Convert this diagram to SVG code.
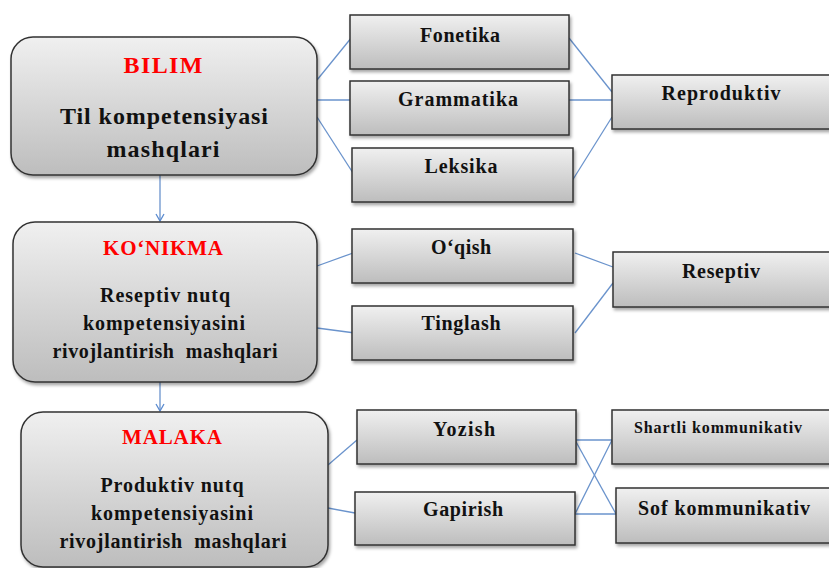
<svg xmlns="http://www.w3.org/2000/svg" width="829" height="568" viewBox="0 0 829 568">
<defs>
<linearGradient id="g" x1="0" y1="0" x2="0" y2="1">
<stop offset="0" stop-color="#f0f0f0"/>
<stop offset="1" stop-color="#bdbdbd"/>
</linearGradient>
<filter id="sh" x="-10%" y="-10%" width="130%" height="140%">
<feDropShadow dx="1.5" dy="2.5" stdDeviation="1.5" flood-color="#000" flood-opacity="0.35"/>
</filter>
<marker id="arr" viewBox="0 0 10 10" refX="9" refY="5" markerWidth="10" markerHeight="10" markerUnits="userSpaceOnUse" orient="auto">
<path d="M2,1 L9,5 L2,9" fill="none" stroke="#5b8bd0" stroke-width="1.3"/>
</marker>
</defs>
<style>
.b{fill:url(#g);stroke:#333;stroke-width:1.5;filter:url(#sh)}
.t{font-family:"Liberation Serif","Times New Roman",serif;font-weight:bold;fill:#111;text-anchor:middle}
.r{fill:#ff0000}
.c{fill:none;stroke:#6a93cc;stroke-width:1.3}
</style>
<rect width="829" height="568" fill="#fff"/>

<g id="connectors">
<line class="c" x1="160" y1="175" x2="160" y2="221" marker-end="url(#arr)"/>
<line class="c" x1="160" y1="382" x2="160" y2="411" marker-end="url(#arr)"/>
<line class="c" x1="317" y1="80" x2="352" y2="37"/>
<line class="c" x1="317" y1="100" x2="351" y2="100"/>
<line class="c" x1="317" y1="117" x2="353" y2="173"/>
<line class="c" x1="569" y1="38" x2="612" y2="92"/>
<line class="c" x1="569" y1="100" x2="612" y2="100"/>
<line class="c" x1="572" y1="181" x2="612" y2="117"/>
<line class="c" x1="317" y1="266" x2="353" y2="253"/>
<line class="c" x1="317" y1="328" x2="355" y2="333"/>
<line class="c" x1="575" y1="253" x2="613" y2="267"/>
<line class="c" x1="575" y1="333" x2="613" y2="283"/>
<line class="c" x1="328" y1="465" x2="357" y2="440"/>
<line class="c" x1="328" y1="508" x2="355" y2="513"/>
<line class="c" x1="575" y1="440" x2="612" y2="440"/>
<line class="c" x1="575" y1="440" x2="616" y2="514"/>
<line class="c" x1="575" y1="514" x2="612" y2="440"/>
<line class="c" x1="575" y1="514" x2="616" y2="514"/>
</g>

<g id="bilim">
<rect class="b" x="11" y="37" width="306" height="138" rx="22"/>
<text class="t r" x="163" y="73" font-size="24" textLength="79" lengthAdjust="spacing">BILIM</text>
<text class="t" x="164" y="124" font-size="24" textLength="208" lengthAdjust="spacing">Til kompetensiyasi</text>
<text class="t" x="163" y="157" font-size="24" textLength="113" lengthAdjust="spacing">mashqlari</text>
</g>

<g id="konikma">
<rect class="b" x="13" y="222" width="304" height="160" rx="22"/>
<text class="t r" x="163" y="255" font-size="21" textLength="120" lengthAdjust="spacing">KO‘NIKMA</text>
<text class="t" x="165" y="302" font-size="20" textLength="130" lengthAdjust="spacing">Reseptiv nutq</text>
<text class="t" x="164" y="330" font-size="20" textLength="162" lengthAdjust="spacing">kompetensiyasini</text>
<text class="t" x="165" y="358" font-size="20" textLength="225" lengthAdjust="spacing" xml:space="preserve">rivojlantirish  mashqlari</text>
</g>

<g id="malaka">
<rect class="b" x="21" y="412" width="307" height="155" rx="22"/>
<text class="t r" x="172" y="444" font-size="21" textLength="100" lengthAdjust="spacing">MALAKA</text>
<text class="t" x="172" y="492" font-size="20" textLength="143" lengthAdjust="spacing">Produktiv nutq</text>
<text class="t" x="172" y="520" font-size="20" textLength="162" lengthAdjust="spacing">kompetensiyasini</text>
<text class="t" x="173" y="548" font-size="20" textLength="227" lengthAdjust="spacing" xml:space="preserve">rivojlantirish  mashqlari</text>
</g>

<g id="fonetika">
<rect class="b" x="350" y="15" width="219" height="54"/>
<text class="t" x="460" y="42" font-size="20" textLength="80" lengthAdjust="spacing">Fonetika</text>
</g>
<g id="grammatika">
<rect class="b" x="350" y="81" width="219" height="54"/>
<text class="t" x="458" y="106" font-size="20" textLength="120" lengthAdjust="spacing">Grammatika</text>
</g>
<g id="leksika">
<rect class="b" x="352" y="148" width="221" height="54"/>
<text class="t" x="461" y="173" font-size="20" textLength="73" lengthAdjust="spacing">Leksika</text>
</g>
<g id="reproduktiv">
<rect class="b" x="612" y="75" width="230" height="54"/>
<text class="t" x="721" y="100" font-size="20" textLength="119" lengthAdjust="spacing">Reproduktiv</text>
</g>

<g id="oqish">
<rect class="b" x="352" y="229" width="221" height="54"/>
<text class="t" x="461" y="254" font-size="20" textLength="60" lengthAdjust="spacing">O‘qish</text>
</g>
<g id="tinglash">
<rect class="b" x="352" y="306" width="221" height="54"/>
<text class="t" x="461" y="330" font-size="20" textLength="79" lengthAdjust="spacing">Tinglash</text>
</g>
<g id="reseptiv">
<rect class="b" x="613" y="252" width="230" height="55"/>
<text class="t" x="721" y="278" font-size="20" textLength="78" lengthAdjust="spacing">Reseptiv</text>
</g>

<g id="yozish">
<rect class="b" x="357" y="410" width="219" height="54"/>
<text class="t" x="464" y="436" font-size="20" textLength="62" lengthAdjust="spacing">Yozish</text>
</g>
<g id="gapirish">
<rect class="b" x="355" y="492" width="220" height="53"/>
<text class="t" x="463" y="516" font-size="20" textLength="80" lengthAdjust="spacing">Gapirish</text>
</g>
<g id="shartli">
<rect class="b" x="612" y="410" width="230" height="54"/>
<text class="t" x="718" y="433" font-size="16" textLength="168" lengthAdjust="spacing">Shartli kommunikativ</text>
</g>
<g id="sof">
<rect class="b" x="616" y="488" width="230" height="55"/>
<text class="t" x="724" y="515" font-size="20" textLength="172" lengthAdjust="spacing">Sof kommunikativ</text>
</g>
</svg>
